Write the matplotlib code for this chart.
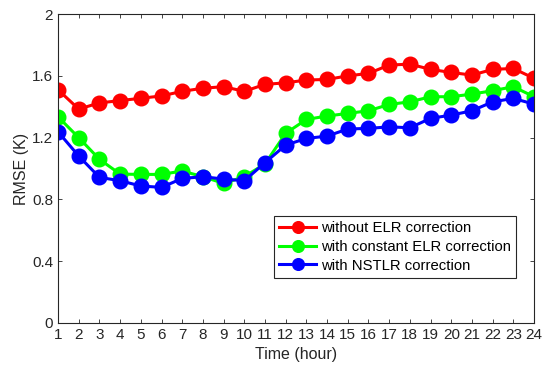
import matplotlib
matplotlib.use('Agg')
import matplotlib.pyplot as plt

plt.rcParams['font.family'] = ['Liberation Sans', 'DejaVu Sans']

hours = list(range(1, 25))
without_elr = [1.51, 1.385, 1.425, 1.44, 1.455, 1.47, 1.50, 1.52, 1.53, 1.50, 1.545, 1.555,
               1.573, 1.577, 1.60, 1.616, 1.670, 1.676, 1.642, 1.622, 1.605, 1.642, 1.648, 1.584]
constant_elr = [1.335, 1.20, 1.06, 0.964, 0.962, 0.962, 0.984, 0.947, 0.904, 0.947, 1.03, 1.228,
                1.318, 1.34, 1.357, 1.374, 1.415, 1.432, 1.465, 1.465, 1.482, 1.504, 1.53, 1.465]
nstlr = [1.238, 1.081, 0.943, 0.921, 0.887, 0.878, 0.936, 0.947, 0.932, 0.921, 1.038, 1.152,
         1.195, 1.21, 1.256, 1.26, 1.27, 1.264, 1.325, 1.346, 1.374, 1.432, 1.454, 1.417]
yticks = [0, 0.4, 0.8, 1.2, 1.6, 2]
ytick_labels = ['0', '0.4', '0.8', '1.2', '1.6', '2']

fig = plt.figure(figsize=(5.5, 3.79), dpi=100)
ax = fig.add_axes([0.1055, 0.1478, 0.8655, 0.815])

ax.plot(hours, without_elr, '-o', color='#ff0000', lw=2.2, ms=10.5, label='without ELR correction')
ax.plot(hours, constant_elr, '-o', color='#00ff00', lw=2.2, ms=10.5, label='with constant ELR correction')
ax.plot(hours, nstlr, '-o', color='#0000ff', lw=2.2, ms=10.5, label='with NSTLR correction')

ax.set_xlim(1, 24)
ax.set_ylim(0, 2)
ax.set_xticks(hours)
ax.set_yticks(yticks)
ax.set_yticklabels(ytick_labels)
ax.tick_params(direction='in', top=True, right=True, labelsize=11, colors='#262626', length=3,
               width=0.6)
for s in ax.spines.values():
    s.set_color('#262626')
    s.set_linewidth(0.8)
ax.set_xlabel('Time (hour)', fontsize=11.5, color='#262626')
ax.set_ylabel('RMSE (K)', fontsize=11.5, color='#262626', labelpad=2)

leg = ax.legend(loc='lower right', bbox_to_anchor=(0.962, 0.146), borderaxespad=0,
                fontsize=10.7, fancybox=False, handlelength=2.5, labelspacing=0.32,
                borderpad=0.35, handletextpad=0.3, framealpha=1, markerscale=0.8)
leg.get_frame().set_edgecolor('#262626')
leg.get_frame().set_linewidth(0.8)

fig.savefig('out.png', dpi=100)
